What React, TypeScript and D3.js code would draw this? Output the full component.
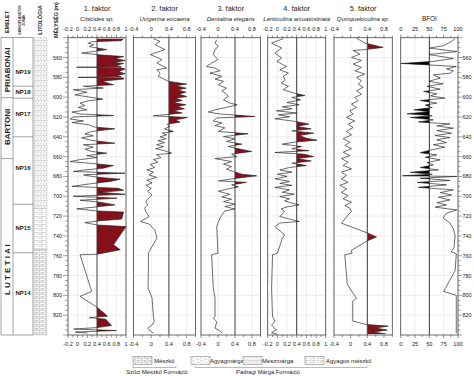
import React from 'react';
import * as d3 from 'd3';

type P = [number, number];

// depth (m) vs value
const depthDomain: [number, number] = [540, 840];
const depthLabels = d3.range(560, 821, 20);
const depthMinor = d3.range(540, 841, 5);

const stageNames = ['PRIABONAI', 'BARTONI', 'L U T E T I A I'];
const stageBounds = [540, 600.5, 662, 840];
const stageLabelDepth = [572.5, 630, 774];

const zoneNames = ['NP19', 'NP18', 'NP17', 'NP16', 'NP15', 'NP14'];
const zoneBounds = [540, 589, 601, 640, 708, 757, 840];
const zoneLabelDepth = [574.5, 594.7, 617, 671.5, 732, 797.5];

const lithoBounds = [540, 712, 754, 840];
const lithoKinds = ['meszmarga', 'agyagos', 'meszko'];

const legendNames = ['Mészkő', 'Agyagmárga', 'Mészmárga', 'Agyagos mészkő'];
const legendKinds = ['meszko', 'agyagmarga', 'meszmarga', 'agyagos'];
const formationNames = ['Szőci Mészkő Formáció', 'Padragi Márga Formáció'];

const cibicides: P[] = [
  [541, 0.95], [543, 0.9], [544, 0.29], [545.5, 0.22], [547, 0.33], [549, 0.24], [552, 0.6], [553.7, 0.36],
  [555.5, 0.08], [557.5, 0.5], [559, 0.95], [561, 0.78], [563, 0.98], [565, 0.75], [566, 0.95], [568, 0.8],
  [569.3, 0.9], [569.8, -0.02], [570.4, 0.9], [571.7, 0.98], [574, 0.85], [576.4, 0.98], [578.4, 0.8], [579.5, 0.9],
  [580, 0.01], [580.6, 0.95], [581.8, 0.95], [584, 0.5], [587.5, 0.74], [589, 0.12], [590.8, 0.53], [592.5, -0.09],
  [595, 0.19], [597.6, -0.06], [600, 0.25], [602, 0.52], [603.7, 0.22], [606, 0.05], [608.4, 0.15], [610.4, 0.01],
  [612.8, 0.19], [615, -0.12], [617, 0.05], [618.5, 0.74], [620, -0.09], [622, -0.16], [624, 0.12], [625.6, -0.12],
  [628, 0.25], [630, 0.32], [632, 0.77], [634.6, 0.29], [637, 0.15], [639, 0.32], [641, 0.08], [643.7, 0.29],
  [646.4, 0.77], [648, 0.12], [650.5, 0.32], [652.5, 0.15], [654.8, 0.29], [656.5, 0.6], [659, 0.19], [661, 0.4],
  [663, 0.05], [665, -0.16], [667, 0.32], [669, 0.74], [671.7, 0.53], [673.4, 0.15], [675, -0.09], [676.7, 0.98],
  [678.4, 0.12], [680.8, 0.4], [682.8, 0.88], [685, 0.67], [687.5, 0.25], [690, -0.12], [692, 0.84], [694, 0.95],
  [696, 0.46], [698, 0.98], [700, -0.09], [702, 0.81], [704, 0.05], [706, 0.46], [708.7, 0.77], [710.7, 0.4],
  [712.7, -0.02], [714.8, 0.4], [716, 0.95], [723, 0.91], [725, 0.4], [726.6, 0.15], [729, 0.4], [730.6, 1.0],
  [749, 0.74], [754, 0.88], [758.5, 0.4], [759, 0.05], [796, 0.29], [801, 0.05], [812, 0.4], [821, 0.62],
  [822.5, 0.24], [824, 0.58], [830.5, 0.7], [832.5, 0.4], [834, -0.08], [835.5, 0.8], [837, -0.05], [838, 0.2],
];

const uvigerina: P[] = [
  [541, 0.05], [543.7, 0.2], [547, 0.09], [552, 0.31], [557, -0.02], [562, 0.24], [565.6, 0.13], [570.7, 0.35],
  [572.4, 0.13], [575.7, 0.2], [579, 0.16], [581.4, 0.27], [584, 0.38], [586.8, 0.8], [588.5, 0.55], [590.9, 0.79],
  [592.6, 0.6], [595, 0.78], [597, 0.62], [599.3, 0.8], [601, 0.55], [603.3, 0.7], [605.4, 0.5], [607.7, 0.78],
  [609.7, 0.58], [611.7, 0.75], [613.8, 0.5], [616, 0.7], [618.8, 0.05], [620.5, 0.82], [622.9, 0.55], [625.2, 0.65],
  [627.2, 0.36], [629.6, 0.42], [632, 0.3], [634.6, 0.5], [636.3, 0.25], [638, 0.35], [640, 0.2], [642, 0.33],
  [644, 0.15], [645.8, 0.3], [648, 0.12], [650, 0.28], [652, 0.1], [654, 0.3], [656.5, 0.46], [658, 0.12],
  [661, 0.22], [663, 0.05], [665.6, 0.15], [668, -0.02], [671, 0.08], [673.4, -0.1], [675.7, 0.05], [678.4, -0.05],
  [681, 0.12], [683.8, -0.1], [686.5, 0.02], [689, -0.12], [692, 0.0], [695, -0.08], [698.6, 0.02], [702, -0.06],
  [705.4, -0.12], [708.7, -0.08], [712, -0.15], [715.5, -0.12], [720.5, -0.05], [725.5, -0.24], [728, -0.05],
  [734, 0.08], [742, 0.13], [757, -0.06], [793, -0.07], [800, 0.0], [803, 0.02], [822, 0.05], [826, 0.07],
  [830, 0.02], [833, -0.08], [836, -0.02], [838, 0.05],
];

const dentalina: P[] = [
  [542, -0.03], [545.4, -0.07], [548.8, 0.01], [552, -0.07], [557, -0.11], [562, 0.0], [565.6, -0.15], [569, -0.27],
  [570.7, -0.07], [573.4, 0.05], [575.7, -0.19], [579, 0.09], [581.8, -0.07], [584, 0.13], [587.5, 0.01], [590.9, 0.2],
  [593.6, 0.09], [597, 0.2], [599.3, 0.24], [602.7, 0.13], [606, 0.28], [607.7, 0.45], [610.4, 0.2], [612.8, -0.07],
  [615, -0.23], [617, 0.05], [619.5, 0.87], [621, -0.03], [624, -0.11], [626, 0.09], [628.6, -0.07], [631, 0.16],
  [634.6, 0.01], [637, 0.71], [639.7, 0.13], [642, 0.4], [644.7, 0.2], [647.4, 0.56], [649.8, 0.24], [652, 0.48],
  [654.8, 0.79], [657.5, 0.32], [660, 0.44], [662, -0.07], [665, 0.32], [667.6, 0.13], [670, 0.32], [672.7, 0.2],
  [675, 0.36], [677.7, 0.56], [679.4, 0.91], [681.8, 0.44], [684.5, 0.01], [686, 0.67], [688.5, 0.32], [690.5, 0.48],
  [692.5, 0.24], [695, 0.01], [698, 0.28], [700.6, 0.09], [703, 0.32], [705.4, 0.13], [708, 0.4], [710.4, 0.16],
  [712.8, 0.4], [714.8, 0.16], [719, 0.09], [725.5, 0.01], [730.6, -0.03], [757.5, 0.0], [759, -0.15], [793, -0.11],
  [803, -0.07], [821.5, -0.07], [823, -0.11], [826.6, -0.03], [833, -0.07], [836, 0.05], [838, 0.09],
];

const lenticulina: P[] = [
  [541, 0.12], [545.4, -0.12], [550.5, 0.09], [555.5, -0.05], [560.6, 0.09], [564, -0.01], [569, 0.19], [572.4, 0.05],
  [575.7, 0.23], [579, 0.12], [582.5, 0.16], [585.8, 0.08], [589, 0.23], [592.5, 0.12], [596, 0.36], [598.3, 0.57],
  [600.3, 0.3], [602.7, 0.48], [605.4, 0.2], [607.7, 0.45], [609.7, 0.1], [611.7, 0.3], [613.8, -0.02], [616, 0.4],
  [617.8, 0.02], [619.8, 0.25], [621.8, -0.05], [624, 0.3], [625.2, 0.45], [627.2, 0.65], [629.6, 0.4], [632, 0.7],
  [634, 0.3], [636.3, 0.75], [638.7, 0.45], [641.4, 0.6], [643.4, 0.82], [645.4, 0.35], [647.4, 0.1], [649.8, 0.5],
  [652, 0.3], [654, 0.65], [655.8, -0.05], [657.5, 0.55], [660, 0.75], [662, 0.4], [664.3, 0.7], [666.6, 0.3],
  [669, 0.6], [671, 0.25], [673.4, 0.05], [675.7, 0.3], [677.7, 0.0], [680, 0.2], [682.4, -0.05], [685, 0.25],
  [687, 0.05], [689, 0.3], [691, -0.05], [693.6, 0.25], [696, 0.1], [698, 0.35], [700.3, 0.05], [702.6, 0.25],
  [704.7, 0.15], [707, 0.3], [708.7, 0.45], [710.7, 0.2], [712.8, 0.08], [715.5, 0.15], [720.5, 0.05], [725.5, 0.45],
  [727, 0.05], [730.6, -0.05], [739, 0.15], [743, 0.1], [757.5, 0.0], [759, -0.1], [793, -0.12], [821.5, -0.1],
  [826, -0.05], [830, -0.12], [835, -0.02], [837.7, -0.12], [839.3, 0.0],
];

const quinqueloculina: P[] = [
  [540.4, 0.14], [545.4, 0.34], [549.8, 0.78], [552, 0.34], [553, 0.06], [556.5, 0.22], [560, 0.02], [563, 0.26],
  [566.6, 0.06], [570, 0.26], [573.4, 0.1], [576.7, 0.34], [580, 0.14], [583.5, 0.26], [586.8, 0.18], [590, 0.3],
  [593.6, 0.14], [597, 0.26], [600.3, 0.1], [603.7, 0.18], [607, 0.02], [610.4, 0.14], [613.8, -0.02], [617, 0.06],
  [620.5, -0.1], [624, 0.1], [627.2, -0.06], [630.6, 0.06], [634.6, -0.1], [638, 0.02], [642, -0.18], [645.4, -0.02],
  [648.8, -0.14], [652, 0.02], [655.5, -0.18], [659, -0.02], [662, -0.22], [665.6, -0.06], [669, -0.18], [672.4, 0.02],
  [675.7, -0.22], [679, -0.1], [682.4, -0.22], [686, -0.06], [689, -0.26], [692.5, -0.1], [696, -0.22], [699.3, -0.06],
  [702.6, -0.18], [706, 0.02], [709.4, -0.14], [712, -0.02], [715.5, 0.02], [718.8, -0.06], [727.2, -0.22],
  [737, 0.4], [741, 0.62], [745, 0.4], [754.5, 0.02], [757.5, 0.03], [759, -0.14], [789, -0.08], [803, 0.14],
  [806, 0.05], [826, 0.05], [829.5, 0.4], [831, 0.9], [833, 0.6], [835, 0.88], [837, 0.55], [839, 0.85],
];

const bfoi: P[] = [
  [541, 95], [544, 88], [548, 75], [550.5, 50], [554, 98], [557, 50], [561, 92], [564, 55], [566, 0], [567.5, 50],
  [569, 97], [571.5, 80], [573.5, 92], [575.8, 86], [577.5, 57], [580.8, 69], [584, 49], [586.5, 74], [589, 46],
  [592, 69], [594.3, 40], [596.6, 63], [598.7, 52], [601, 77], [603.4, 34], [606, 63], [608, 43], [610.5, 55],
  [612.8, 23], [614.8, 49], [616.8, 11], [618.8, 55], [620.5, 17], [622.9, 57], [625, 31], [627, 86], [629, 63],
  [631.3, 92], [633.7, 63], [636.4, 89], [638.7, 60], [640.8, 86], [643, 63], [645.8, 80], [648, 57], [650.5, 77],
  [653, 55], [656, 34], [658.3, 63], [660.6, 43], [663.3, 69], [666, 46], [668.4, 57], [671, 34], [673.4, 66],
  [675.8, 17], [677.8, 55], [679.3, 3], [680, 98], [681.8, 34], [684, 86], [686, 29], [688.5, 80], [691, 31],
  [693.6, 92], [696.3, 69], [698.7, 89], [701, 66], [703.7, 86], [706.4, 63], [708.8, 80], [711, 60], [713.8, 98],
  [717, 80], [722, 74], [727, 86], [733, 92], [740, 95], [752, 93], [756, 88], [758, 97], [775, 95], [796, 75],
  [800, 97], [838, 97],
];

const titles = ['1. faktor', '2. faktor', '3. faktor', '4. faktor', '5. faktor', ''];
const species = ['Cibicides sp.', 'Uvigerina eocaena', 'Dentalina elegans', 'Lenticulina arcuatostriata', 'Quinqueloculina sp.', 'BFOI'];
const ticksA = [-0.2, 0, 0.2, 0.4, 0.6, 0.8, 1];
const ticksB = [-0.4, 0, 0.4, 0.8];
const ticksC = [0, 25, 50, 75, 100];

const FONT = '"Liberation Sans", Arial, sans-serif';
const RED = '#86101a';
const W = 474;
const H = 376;
const TOP = 37.7;
const BOTTOM = 335;

type Cfg = {
  id: string; title: string; species: string; data: P[]; domain: [number, number]; ticks: number[];
  minorStep: number; threshold: number; left: number; right: number; fill: string; side: 'left' | 'right'; italic: boolean;
};

const panels: Cfg[] = [
  { id: 'p1', title: titles[0], species: species[0], data: cibicides, domain: [-0.2, 1], ticks: ticksA, minorStep: 0.1, threshold: 0.4, left: 68, right: 126, fill: RED, side: 'right', italic: true },
  { id: 'p2', title: titles[1], species: species[1], data: uvigerina, domain: [-0.4, 1], ticks: ticksB, minorStep: 0.2, threshold: 0.4, left: 133.5, right: 195.5, fill: RED, side: 'right', italic: true },
  { id: 'p3', title: titles[2], species: species[2], data: dentalina, domain: [-0.4, 1], ticks: ticksB, minorStep: 0.2, threshold: 0.4, left: 201, right: 260.5, fill: RED, side: 'right', italic: true },
  { id: 'p4', title: titles[3], species: species[3], data: lenticulina, domain: [-0.2, 1], ticks: ticksA, minorStep: 0.1, threshold: 0.4, left: 267.7, right: 325.7, fill: RED, side: 'right', italic: true },
  { id: 'p5', title: titles[4], species: species[4], data: quinqueloculina, domain: [-0.4, 1], ticks: ticksB, minorStep: 0.2, threshold: 0.4, left: 334, right: 392.3, fill: RED, side: 'right', italic: true },
  { id: 'p6', title: titles[5], species: species[5], data: bfoi, domain: [0, 100], ticks: ticksC, minorStep: 12.5, threshold: 50, left: 400.7, right: 458, fill: '#000', side: 'left', italic: false },
];

const y = d3.scaleLinear().domain(depthDomain).range([TOP, BOTTOM]);

function fmt(v: number) {
  return String(Math.round(v * 100) / 100);
}

function Panel({ cfg }: { cfg: Cfg }) {
  const x = d3.scaleLinear().domain(cfg.domain).range([cfg.left, cfg.right]);
  const xt = x(cfg.threshold);
  const line = d3.line<P>().x(d => x(d[1])).y(d => y(d[0]));
  const area = d3.area<P>().y(d => y(d[0])).x0(xt).x1(d => x(d[1]));
  const clipX = cfg.side === 'right' ? xt : cfg.left;
  const clipW = cfg.side === 'right' ? cfg.right - xt : xt - cfg.left;
  const n = Math.round((cfg.domain[1] - cfg.domain[0]) / cfg.minorStep);
  const minor = d3.range(0, n + 1).map(i => cfg.domain[0] + i * cfg.minorStep);
  const cx = (cfg.left + cfg.right) / 2;
  return (
    <g>
      <clipPath id={`clip-${cfg.id}`}>
        <rect x={clipX} y={TOP} width={clipW} height={BOTTOM - TOP} />
      </clipPath>
      {cfg.ticks.map(t => (
        <line key={'gv' + t} x1={x(t)} x2={x(t)} y1={TOP} y2={BOTTOM} stroke="#e2e2e2" strokeWidth={0.6} />
      ))}
      {depthLabels.map(d => (
        <line key={'gh' + d} x1={cfg.left} x2={cfg.right} y1={y(d)} y2={y(d)} stroke="#e2e2e2" strokeWidth={0.6} />
      ))}
      <path d={area(cfg.data) || ''} fill={cfg.fill} clipPath={`url(#clip-${cfg.id})`} />
      <path d={line(cfg.data) || ''} fill="none" stroke="#1e1e1e" strokeWidth={0.65} strokeLinejoin="round" />
      <line x1={xt} x2={xt} y1={TOP} y2={BOTTOM} stroke="#333" strokeWidth={0.9} />
      <rect x={cfg.left} y={TOP} width={cfg.right - cfg.left} height={BOTTOM - TOP} fill="none" stroke="#444" strokeWidth={0.8} />
      {minor.map((t, i) => {
        const major = cfg.ticks.some(m => Math.abs(m - t) < 1e-6);
        const len = major ? 3 : 2;
        return (
          <g key={'t' + i}>
            <line x1={x(t)} x2={x(t)} y1={TOP} y2={TOP - len} stroke="#444" strokeWidth={0.6} />
            <line x1={x(t)} x2={x(t)} y1={BOTTOM} y2={BOTTOM + len} stroke="#444" strokeWidth={0.6} />
          </g>
        );
      })}
      {cfg.ticks.map(t => (
        <g key={'l' + t} fontSize={5.6} fill="#222" textAnchor="middle">
          <text x={x(t)} y={31}>{fmt(t)}</text>
          <text x={x(t)} y={346}>{fmt(t)}</text>
        </g>
      ))}
      {cfg.title && (
        <text x={cx} y={11} fontSize={7.4} textAnchor="middle" fill="#222">{cfg.title}</text>
      )}
      <text x={cx} y={21} fontSize={cfg.italic ? 6 : 6.4} fontStyle={cfg.italic ? 'italic' : 'normal'} textAnchor="middle" fill="#222">
        {cfg.species}
      </text>
    </g>
  );
}

function Patterns() {
  const s = '#8a8a8a';
  return (
    <defs>
      <pattern id="pat-meszko" width={6} height={4} patternUnits="userSpaceOnUse">
        <rect width={6} height={4} fill="#fafafa" />
        <path d="M0,0.2H6 M0,2.2H6 M0.5,0.2V2.2 M3.5,2.2V4.2" stroke={s} strokeWidth={0.4} fill="none" />
      </pattern>
      <pattern id="pat-agyagmarga" width={8} height={3} patternUnits="userSpaceOnUse">
        <rect width={8} height={3} fill="#fff" />
        <path d="M0,0.8H3 M4,2.3H7.5" stroke={s} strokeWidth={0.4} fill="none" />
      </pattern>
      <pattern id="pat-meszmarga" width={6} height={5} patternUnits="userSpaceOnUse">
        <rect width={6} height={5} fill="#fafafa" />
        <path d="M0,0.3H6 M1,4.5L3,1 M4,4.5L6,1" stroke={s} strokeWidth={0.35} fill="none" />
      </pattern>
      <pattern id="pat-agyagos" width={8} height={4} patternUnits="userSpaceOnUse">
        <rect width={8} height={4} fill="#fff" />
        <path d="M0,0.3H8 M0,2.3H3 M5,2.3H8 M2,0.3V2.3" stroke={s} strokeWidth={0.35} fill="none" />
      </pattern>
    </defs>
  );
}

function LeftColumns() {
  const c0 = 1, c1 = 13, c2 = 33, c3 = 48;
  return (
    <g fontFamily={FONT}>
      <text transform={`translate(9,22) rotate(-90)`} fontSize={5.4} fontWeight="bold" textAnchor="middle" fill="#222">EMELET</text>
      <text transform={`translate(21,20) rotate(-90)`} fontSize={3.2} fontWeight="bold" textAnchor="middle" fill="#222">NANNOPLANKTON</text>
      <text transform={`translate(25,20) rotate(-90)`} fontSize={3.2} fontWeight="bold" textAnchor="middle" fill="#222">ZÓNÁK</text>
      <text transform={`translate(42,20) rotate(-90)`} fontSize={5.4} fontWeight="bold" textAnchor="middle" fill="#222">LITOLÓGIA</text>
      <text transform={`translate(58,20) rotate(-90)`} fontSize={5.4} fontWeight="bold" textAnchor="middle" fill="#222">MÉLYSÉG (m)</text>
      {lithoKinds.map((k, i) => (
        <rect key={k} x={c2 + 1} y={y(lithoBounds[i])} width={c3 - c2 - 2} height={y(lithoBounds[i + 1]) - y(lithoBounds[i])} fill={`url(#pat-${k})`} stroke="#aaa" strokeWidth={0.3} />
      ))}
      <rect x={c0} y={TOP} width={c2 - c0} height={BOTTOM - TOP} fill="none" stroke="#666" strokeWidth={0.6} />
      <line x1={c1} x2={c1} y1={TOP} y2={BOTTOM} stroke="#666" strokeWidth={0.6} />
      {stageBounds.slice(1, -1).map(b => (
        <line key={'sb' + b} x1={c0} x2={c1} y1={y(b)} y2={y(b)} stroke="#666" strokeWidth={0.6} />
      ))}
      {stageNames.map((n, i) => (
        <text key={n} transform={`translate(10,${y(stageLabelDepth[i])}) rotate(-90)`} fontSize={8} fontWeight="bold" textAnchor="middle" fill="#222">{n}</text>
      ))}
      {zoneBounds.slice(1, -1).map(b => (
        <line key={'zb' + b} x1={c1} x2={c2} y1={y(b)} y2={y(b)} stroke="#666" strokeWidth={0.6} />
      ))}
      {zoneNames.map((n, i) => (
        <text key={n} x={23} y={y(zoneLabelDepth[i]) + 2} fontSize={6} fontWeight="bold" textAnchor="middle" fill="#222">{n}</text>
      ))}
      {depthMinor.map(d => {
        const major = d % 20 === 0;
        return <line key={'dm' + d} x1={major ? 63 : 65} x2={68} y1={y(d)} y2={y(d)} stroke="#444" strokeWidth={0.5} />;
      })}
      {depthLabels.map(d => (
        <text key={'dl' + d} x={62} y={y(d) + 2} fontSize={5.4} textAnchor="end" fill="#222">{d}</text>
      ))}
    </g>
  );
}

function RightAxis() {
  const x0 = 458;
  return (
    <g fontFamily={FONT}>
      {depthMinor.map(d => {
        const major = d % 20 === 0;
        return <line key={'rm' + d} x1={x0} x2={x0 + (major ? 4 : 2.5)} y1={y(d)} y2={y(d)} stroke="#444" strokeWidth={0.5} />;
      })}
      {depthLabels.map(d => (
        <text key={'rl' + d} x={x0 + 4.5} y={y(d) + 2} fontSize={5.4} fill="#222">{d}</text>
      ))}
    </g>
  );
}

function Legend() {
  const boxX = [133, 191, 243, 305];
  const textX = [154, 210, 262, 326];
  return (
    <g fontFamily={FONT} fill="#222">
      {legendKinds.map((k, i) => (
        <g key={k}>
          <rect x={boxX[i]} y={356.5} width={19} height={8} fill={`url(#pat-${k})`} stroke="#777" strokeWidth={0.5} />
          <text x={textX[i]} y={363} fontSize={6}>{legendNames[i]}</text>
        </g>
      ))}
      <path d="M133,365.5V367.5H176V365.5" fill="none" stroke="#777" strokeWidth={0.5} />
      <path d="M195,365.5V367.5H367V365.5" fill="none" stroke="#777" strokeWidth={0.5} />
      <text x={157} y={374} fontSize={5.8} textAnchor="middle">{formationNames[0]}</text>
      <text x={268} y={374} fontSize={5.8} textAnchor="middle">{formationNames[1]}</text>
    </g>
  );
}

export default function App() {
  return (
    <svg width={W} height={H} viewBox={`0 0 ${W} ${H}`} style={{ position: 'absolute', left: 0, top: 0, background: '#fff' }} fontFamily={FONT}>
      <Patterns />
      <rect width={W} height={H} fill="#fff" />
      <LeftColumns />
      {panels.map(p => <Panel key={p.id} cfg={p} />)}
      <RightAxis />
      <Legend />
    </svg>
  );
}
